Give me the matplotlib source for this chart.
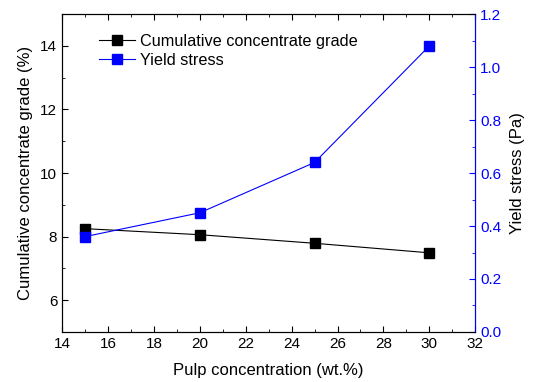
import matplotlib
matplotlib.use("Agg")
import matplotlib.pyplot as plt
from matplotlib.ticker import MultipleLocator

plt.rcParams["font.family"] = ["Liberation Sans", "DejaVu Sans"]

# pulp concentration (wt.%)
conc = [15, 20, 25, 30]
# cumulative concentrate grade (%)
grade = [8.25, 8.06, 7.79, 7.49]
# yield stress (Pa)
yield_stress = [0.36, 0.45, 0.64, 1.08]

BLUE = "#0000ff"

fig = plt.figure(figsize=(5.45, 3.82), dpi=100)
ax = fig.add_axes([0.114, 0.131, 0.758, 0.832])
ax2 = ax.twinx()

l1, = ax.plot(conc, grade, color="black", lw=0.8, marker="s", ms=6.5,
              mfc="black", mec="black", label="Cumulative concentrate grade")
l2, = ax2.plot(conc, yield_stress, color=BLUE, lw=0.8, marker="s", ms=6.5,
               mfc=BLUE, mec=BLUE, label="Yield stress")

ax.set_xlim(14, 32)
ax.set_ylim(5, 15)
ax2.set_ylim(0, 1.2)

ax.xaxis.set_major_locator(MultipleLocator(2))
ax.xaxis.set_minor_locator(MultipleLocator(1))
ax.yaxis.set_major_locator(MultipleLocator(2))
ax.yaxis.set_minor_locator(MultipleLocator(1))
ax2.yaxis.set_major_locator(MultipleLocator(0.2))
ax2.yaxis.set_minor_locator(MultipleLocator(0.1))
ax2.yaxis.set_major_formatter(lambda v, p: f"{v:.1f}")

ax.tick_params(which="both", direction="in", top=True, labelsize=11)
ax.tick_params(which="major", length=4)
ax.tick_params(which="minor", length=2.5)
ax.tick_params(axis="y", which="both", direction="in", right=False)
ax2.tick_params(which="both", direction="in", colors=BLUE, labelsize=11)
ax2.tick_params(which="major", length=4)
ax2.tick_params(which="minor", length=2.5)

ax2.spines["right"].set_color(BLUE)
for s in ax2.spines.values():
    s.set_linewidth(0.8)
for s in ax.spines.values():
    s.set_linewidth(0.8)

ax.set_xlabel("Pulp concentration (wt.%)", fontsize=12, labelpad=9)
ax.set_ylabel("Cumulative concentrate grade (%)", fontsize=12, labelpad=5)
ax2.set_ylabel("Yield stress (Pa)", fontsize=12, color="black", labelpad=6)

ax.legend(handles=[l1, l2], loc="upper left", bbox_to_anchor=(0.055, 0.985),
          frameon=False, fontsize=11.7, handlelength=2.2, handletextpad=0.3,
          labelspacing=0.25)

fig.savefig("out.png", dpi=100)
